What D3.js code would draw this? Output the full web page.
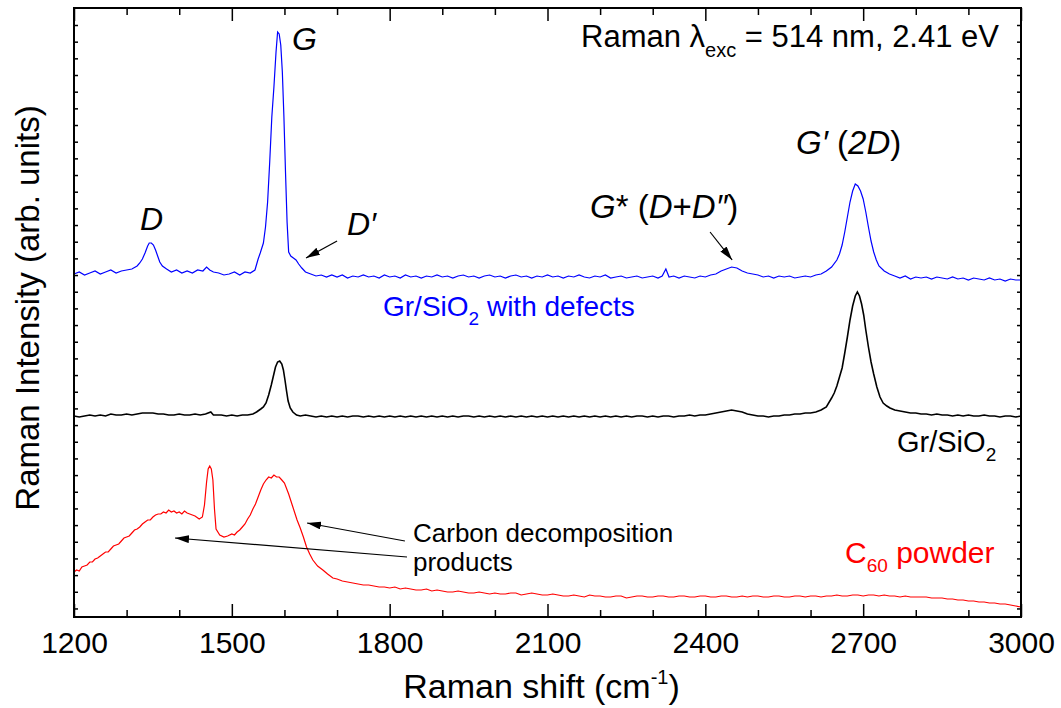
<!DOCTYPE html>
<html><head><meta charset="utf-8">
<script src="https://cdn.jsdelivr.net/npm/d3@7"></script>
<style>
body{margin:0;background:#fff}
text{font-family:"Liberation Sans",Arial,Helvetica,sans-serif}
</style></head>
<body><svg id="chart" width="1061" height="708"></svg>
<script>
// ---------- data (Raman shift cm^-1, intensity arb. units) ----------
const xMajorTicks = [1200,1500,1800,2100,2400,2700,3000];
const xMinorTicks = [1300,1400,1600,1700,1900,2000,2200,2300,2500,2600,2800,2900];

const grDefects = [[1200,343],[1210,345],[1220,342],[1230,344],[1240,346],[1250,343],[1260,345],[1270,347],[1280,344],[1290,346],[1300,347],[1310,348],[1320,351],[1325,354],[1330,358],[1335,364],[1340,371],[1343,374],[1347,374],[1351,372],[1355,367],[1359,361],[1363,355],[1368,351],[1376,348],[1385,345],[1395,347],[1405,344],[1415,346],[1425,344],[1435,347],[1445,346],[1452,350],[1458,347],[1465,345],[1475,344],[1485,342],[1495,343],[1505,345],[1515,342],[1525,345],[1535,344],[1544,347],[1550,358],[1554,364],[1560,374],[1564,390],[1568,415],[1572,455],[1576,500],[1580,530],[1584,565],[1587,585],[1590,583],[1593,572],[1596,545],[1599,500],[1602,445],[1605,395],[1608,365],[1612,361],[1617,359],[1622,357],[1627,353],[1633,349],[1640,345],[1650,343],[1660,341],[1670,342],[1680,340],[1690,342],[1700,340],[1710,342],[1720,339],[1730,341],[1740,340],[1750,342],[1760,340],[1770,341],[1780,339],[1790,342],[1800,340],[1810,341],[1820,339],[1830,342],[1840,340],[1850,341],[1860,339],[1870,341],[1880,340],[1890,342],[1900,340],[1910,341],[1920,339],[1930,341],[1940,342],[1950,340],[1960,341],[1970,339],[1980,341],[1990,342],[2000,340],[2010,341],[2020,339],[2030,341],[2040,342],[2050,340],[2060,341],[2070,339],[2080,341],[2090,340],[2100,342],[2110,340],[2120,341],[2130,339],[2140,341],[2150,340],[2160,342],[2170,340],[2180,339],[2190,341],[2200,340],[2210,342],[2220,339],[2230,340],[2240,341],[2250,339],[2260,340],[2270,341],[2280,339],[2290,340],[2300,341],[2310,339],[2318,341],[2325,348],[2331,340],[2340,341],[2350,339],[2360,341],[2370,340],[2380,339],[2390,341],[2400,340],[2410,342],[2420,343],[2430,346],[2440,348],[2450,350],[2460,349],[2470,346],[2480,344],[2490,343],[2500,342],[2510,340],[2520,341],[2530,339],[2540,341],[2550,340],[2560,341],[2570,339],[2580,340],[2590,341],[2600,340],[2610,342],[2620,343],[2630,346],[2640,350],[2650,357],[2655,363],[2660,372],[2665,385],[2670,400],[2675,415],[2680,426],[2685,433],[2690,431],[2695,426],[2700,418],[2705,405],[2710,390],[2715,376],[2720,365],[2725,357],[2730,351],[2740,346],[2750,343],[2760,341],[2770,339],[2780,341],[2790,338],[2800,340],[2810,339],[2820,340],[2830,338],[2840,340],[2850,339],[2860,338],[2870,340],[2880,338],[2890,339],[2900,337],[2910,339],[2920,338],[2930,337],[2940,339],[2950,337],[2960,338],[2970,336],[2980,338],[2990,337],[3000,337]];

const grSiO2 = [[1200,201],[1210,200],[1220,201],[1230,202],[1240,201],[1250,202],[1260,201],[1270,203],[1280,202],[1290,202],[1300,203],[1310,202],[1320,203],[1330,204],[1340,204],[1350,204],[1360,203],[1370,203],[1380,202],[1390,202],[1400,203],[1410,202],[1420,202],[1430,203],[1440,202],[1450,203],[1460,205],[1465,202],[1470,202],[1480,202],[1490,201],[1500,202],[1510,201],[1520,202],[1530,202],[1540,203],[1547,205],[1555,208],[1560,210],[1565,214],[1570,222],[1575,232],[1579,241],[1583,250],[1587,255],[1591,256],[1595,253],[1598,247],[1601,237],[1604,226],[1607,216],[1611,209],[1616,205],[1623,202],[1630,201],[1640,202],[1650,201],[1660,200],[1670,201],[1680,200],[1690,201],[1700,200],[1710,201],[1720,200],[1730,201],[1740,201],[1750,200],[1760,201],[1770,200],[1780,201],[1790,200],[1800,201],[1810,200],[1820,201],[1830,200],[1840,201],[1850,200],[1860,201],[1870,200],[1880,201],[1890,200],[1900,201],[1910,200],[1920,201],[1930,200],[1940,201],[1950,201],[1960,200],[1970,201],[1980,200],[1990,201],[2000,200],[2010,201],[2020,200],[2030,201],[2040,200],[2050,201],[2060,200],[2070,201],[2080,200],[2090,201],[2100,200],[2110,201],[2120,200],[2130,201],[2140,200],[2150,201],[2160,200],[2170,201],[2180,200],[2190,201],[2200,200],[2210,201],[2220,200],[2230,201],[2240,200],[2250,201],[2260,200],[2270,201],[2280,201],[2290,200],[2300,201],[2310,200],[2320,201],[2330,201],[2340,200],[2350,201],[2360,201],[2370,202],[2380,201],[2390,202],[2400,202],[2410,203],[2420,204],[2430,205],[2440,206],[2450,207],[2460,206],[2470,205],[2480,203],[2490,202],[2500,201],[2510,201],[2520,200],[2530,201],[2540,201],[2550,202],[2560,202],[2570,203],[2580,203],[2590,204],[2600,204],[2610,205],[2620,207],[2630,210],[2640,219],[2645,224],[2650,231],[2655,240],[2660,249],[2665,264],[2670,280],[2675,297],[2680,311],[2685,321],[2689,325],[2693,321],[2697,313],[2701,302],[2705,287],[2710,270],[2715,255],[2720,243],[2726,230],[2732,220],[2738,214],[2745,211],[2751,209],[2760,207],[2770,206],[2780,205],[2790,204],[2800,204],[2810,203],[2820,203],[2830,202],[2840,203],[2850,202],[2860,202],[2870,201],[2880,202],[2890,201],[2900,202],[2910,201],[2920,201],[2930,202],[2940,201],[2950,201],[2960,200],[2970,201],[2980,201],[2990,200],[3000,201]];

const c60Powder = [[1200,45],[1205,47],[1210,46],[1215,50],[1220,51],[1225,52],[1230,55],[1235,55],[1240,58],[1245,59],[1250,61],[1255,63],[1260,65],[1265,65],[1270,68],[1275,71],[1280,72],[1285,73],[1290,76],[1295,79],[1300,80],[1305,81],[1310,84],[1315,87],[1320,88],[1325,90],[1330,93],[1335,95],[1340,97],[1345,97],[1350,100],[1355,102],[1360,103],[1365,103],[1370,105],[1375,104],[1380,107],[1385,105],[1390,106],[1395,104],[1400,105],[1405,103],[1410,106],[1415,104],[1420,103],[1425,102],[1430,101],[1438,98],[1444,100],[1448,112],[1452,135],[1455,148],[1458,151],[1461,148],[1464,137],[1467,108],[1470,88],[1477,82],[1485,80],[1492,81],[1500,83],[1505,82],[1510,85],[1515,87],[1520,90],[1525,93],[1530,98],[1535,102],[1540,108],[1545,113],[1550,120],[1555,127],[1560,133],[1565,137],[1570,140],[1575,139],[1580,142],[1585,140],[1590,140],[1595,137],[1600,134],[1608,123],[1616,110],[1624,97],[1630,89],[1636,80],[1642,70],[1648,63],[1654,57],[1663,51],[1673,47],[1682,43],[1692,39],[1700,38],[1710,36],[1720,35],[1730,34],[1740,33],[1750,32],[1760,32],[1770,31],[1780,30],[1790,30],[1800,29],[1810,30],[1820,28],[1830,29],[1840,28],[1850,27],[1860,27],[1870,28],[1880,26],[1890,27],[1900,26],[1910,25],[1920,25],[1930,26],[1940,25],[1950,24],[1960,24],[1970,25],[1980,24],[1990,23],[2000,24],[2010,23],[2020,23],[2030,24],[2040,24],[2050,22],[2060,23],[2070,24],[2080,23],[2090,22],[2100,22],[2110,23],[2120,22],[2130,21],[2140,21],[2150,22],[2160,21],[2170,20],[2180,22],[2190,21],[2200,21],[2210,20],[2220,20],[2230,21],[2240,21],[2250,19],[2260,20],[2270,21],[2280,21],[2290,20],[2300,20],[2310,21],[2320,21],[2330,20],[2340,20],[2350,21],[2360,21],[2370,20],[2380,20],[2390,21],[2400,21],[2410,20],[2420,20],[2430,21],[2440,21],[2450,20],[2460,20],[2470,21],[2480,20],[2490,21],[2500,21],[2510,20],[2520,20],[2530,21],[2540,21],[2550,20],[2560,20],[2570,21],[2580,21],[2590,20],[2600,21],[2610,21],[2620,20],[2630,21],[2640,21],[2650,22],[2660,21],[2670,21],[2680,22],[2690,22],[2700,21],[2710,22],[2720,22],[2730,21],[2740,22],[2750,21],[2760,21],[2770,20],[2780,21],[2790,20],[2800,20],[2810,20],[2820,20],[2830,19],[2840,19],[2850,19],[2860,18],[2870,18],[2880,17],[2890,17],[2900,16],[2910,16],[2920,15],[2930,15],[2940,14],[2950,14],[2960,13],[2970,13],[2980,12],[2990,11],[3000,10]];

const seriesColors = {defects:"#0000ff", pristine:"#000000", c60:"#ff0000"};

// ---------- layout ----------
const svg = d3.select("#chart");
const L = 74, R = 1021, T = 8, B = 617;
const x = d3.scaleLinear().domain([1200,3000]).range([L,R]);
const y = d3.scaleLinear().domain([0,609]).range([B,T]);
const yTicks = d3.range(592, 0, -16.67);

svg.append("rect").attr("width",1061).attr("height",708).attr("fill","#fff");

const line = d3.line().x(d=>x(d[0])).y(d=>y(d[1]));
svg.append("path").datum(c60Powder).attr("d",line).attr("fill","none").attr("stroke",seriesColors.c60).attr("stroke-width",1.2);
svg.append("path").datum(grSiO2).attr("d",line).attr("fill","none").attr("stroke",seriesColors.pristine).attr("stroke-width",1.6);
svg.append("path").datum(grDefects).attr("d",line).attr("fill","none").attr("stroke",seriesColors.defects).attr("stroke-width",1.2);

// axes
function style(g){ g.select(".domain").remove(); g.selectAll(".tick line").attr("stroke","#000").attr("stroke-width",1.5); }
svg.append("g").attr("transform",`translate(0,${B})`)
  .call(d3.axisBottom(x).tickValues(xMajorTicks).tickSize(-13).tickPadding(15).tickFormat(d3.format("d")))
  .call(style)
  .call(g=>g.selectAll("text").attr("font-size",30).attr("fill","#000").attr("font-family","Liberation Sans, Arial, sans-serif"));
svg.append("g").attr("transform",`translate(0,${B})`)
  .call(d3.axisBottom(x).tickValues(xMinorTicks).tickSize(-7).tickFormat("")).call(style);
svg.append("g").attr("transform",`translate(0,${T})`)
  .call(d3.axisTop(x).tickValues(xMajorTicks).tickSize(-13).tickFormat("")).call(style);
svg.append("g").attr("transform",`translate(0,${T})`)
  .call(d3.axisTop(x).tickValues(xMinorTicks).tickSize(-7).tickFormat("")).call(style);
svg.append("g").attr("transform",`translate(${L},0)`)
  .call(d3.axisLeft(y).tickValues(yTicks).tickSize(-4).tickFormat("")).call(style);
svg.append("g").attr("transform",`translate(${R},0)`)
  .call(d3.axisRight(y).tickValues(yTicks).tickSize(-4).tickFormat("")).call(style);
svg.append("rect").attr("x",L).attr("y",T).attr("width",R-L).attr("height",B-T)
  .attr("fill","none").attr("stroke","#000").attr("stroke-width",2);

// axis titles
const xt = svg.append("text").attr("x",(L+R)/2 - 6).attr("y",698).attr("text-anchor","middle").attr("font-size",34);
xt.append("tspan").text("Raman shift (cm");
xt.append("tspan").attr("dy",-14).attr("font-size",20).text("-1");
xt.append("tspan").attr("dy",14).text(")");
svg.append("text").attr("transform","translate(39,308) rotate(-90)").attr("text-anchor","middle")
  .attr("font-size",33).text("Raman Intensity (arb. units)");

// arrows
const defs = svg.append("defs");
defs.append("marker").attr("id","ah").attr("viewBox","0 0 14 8").attr("refX",14).attr("refY",4)
  .attr("markerWidth",14).attr("markerHeight",8).attr("markerUnits","userSpaceOnUse").attr("orient","auto")
  .append("path").attr("d","M0,0 L14,4 L0,8 Z").attr("fill","#000");
const arrows = [
  {from:[1700,376], to:[1641,359]},       // D'
  {from:[2409,385], to:[2451,357]},       // G*
  {from:[1829,76], to:[1643,94]},         // carbon -> 1580 band
  {from:[1833,60], to:[1392,79]}          // carbon -> 1380 band
];
arrows.forEach(a=>svg.append("line").attr("x1",x(a.from[0])).attr("y1",y(a.from[1]))
  .attr("x2",x(a.to[0])).attr("y2",y(a.to[1])).attr("stroke","#000").attr("stroke-width",1.2)
  .attr("marker-end","url(#ah)"));

// labels
function label(px,py,parts,size,anchor){
  const t = svg.append("text").attr("x",px).attr("y",py).attr("font-size",size).attr("text-anchor",anchor||"start");
  parts.forEach(p=>{ const s=t.append("tspan").text(p.t);
    if(p.i) s.attr("font-style","italic");
    if(p.dy) s.attr("dy",p.dy);
    if(p.fs) s.attr("font-size",p.fs); });
  return t;
}
label(292,50,[{t:"G",i:1}],32);
label(140,230,[{t:"D",i:1}],32);
label(347,235,[{t:"D\u2032",i:1}],32);
label(590,218,[{t:"G",i:1},{t:"* ("},{t:"D",i:1},{t:"+"},{t:"D\u2033",i:1},{t:")"}],33);
label(796,154,[{t:"G\u2032",i:1},{t:" ("},{t:"2D",i:1},{t:")"}],33);

label(999,47,[{t:"Raman "},{t:"\u03bb"},{t:"exc",dy:10,fs:20},{t:" = 514 nm, 2.41 eV",dy:-10}],31,"end");

label(383,316,[{t:"Gr/SiO"},{t:"2",dy:9,fs:19},{t:" with defects",dy:-9}],28).attr("fill",seriesColors.defects);
label(897,452,[{t:"Gr/SiO"},{t:"2",dy:9,fs:19}],29).attr("fill","#000");
label(845,563,[{t:"C"},{t:"60",dy:9,fs:19},{t:" powder",dy:-9}],30).attr("fill",seriesColors.c60);
label(413,542,[{t:"Carbon decomposition"}],26);
label(413,571,[{t:"products"}],26);
</script></body></html>
